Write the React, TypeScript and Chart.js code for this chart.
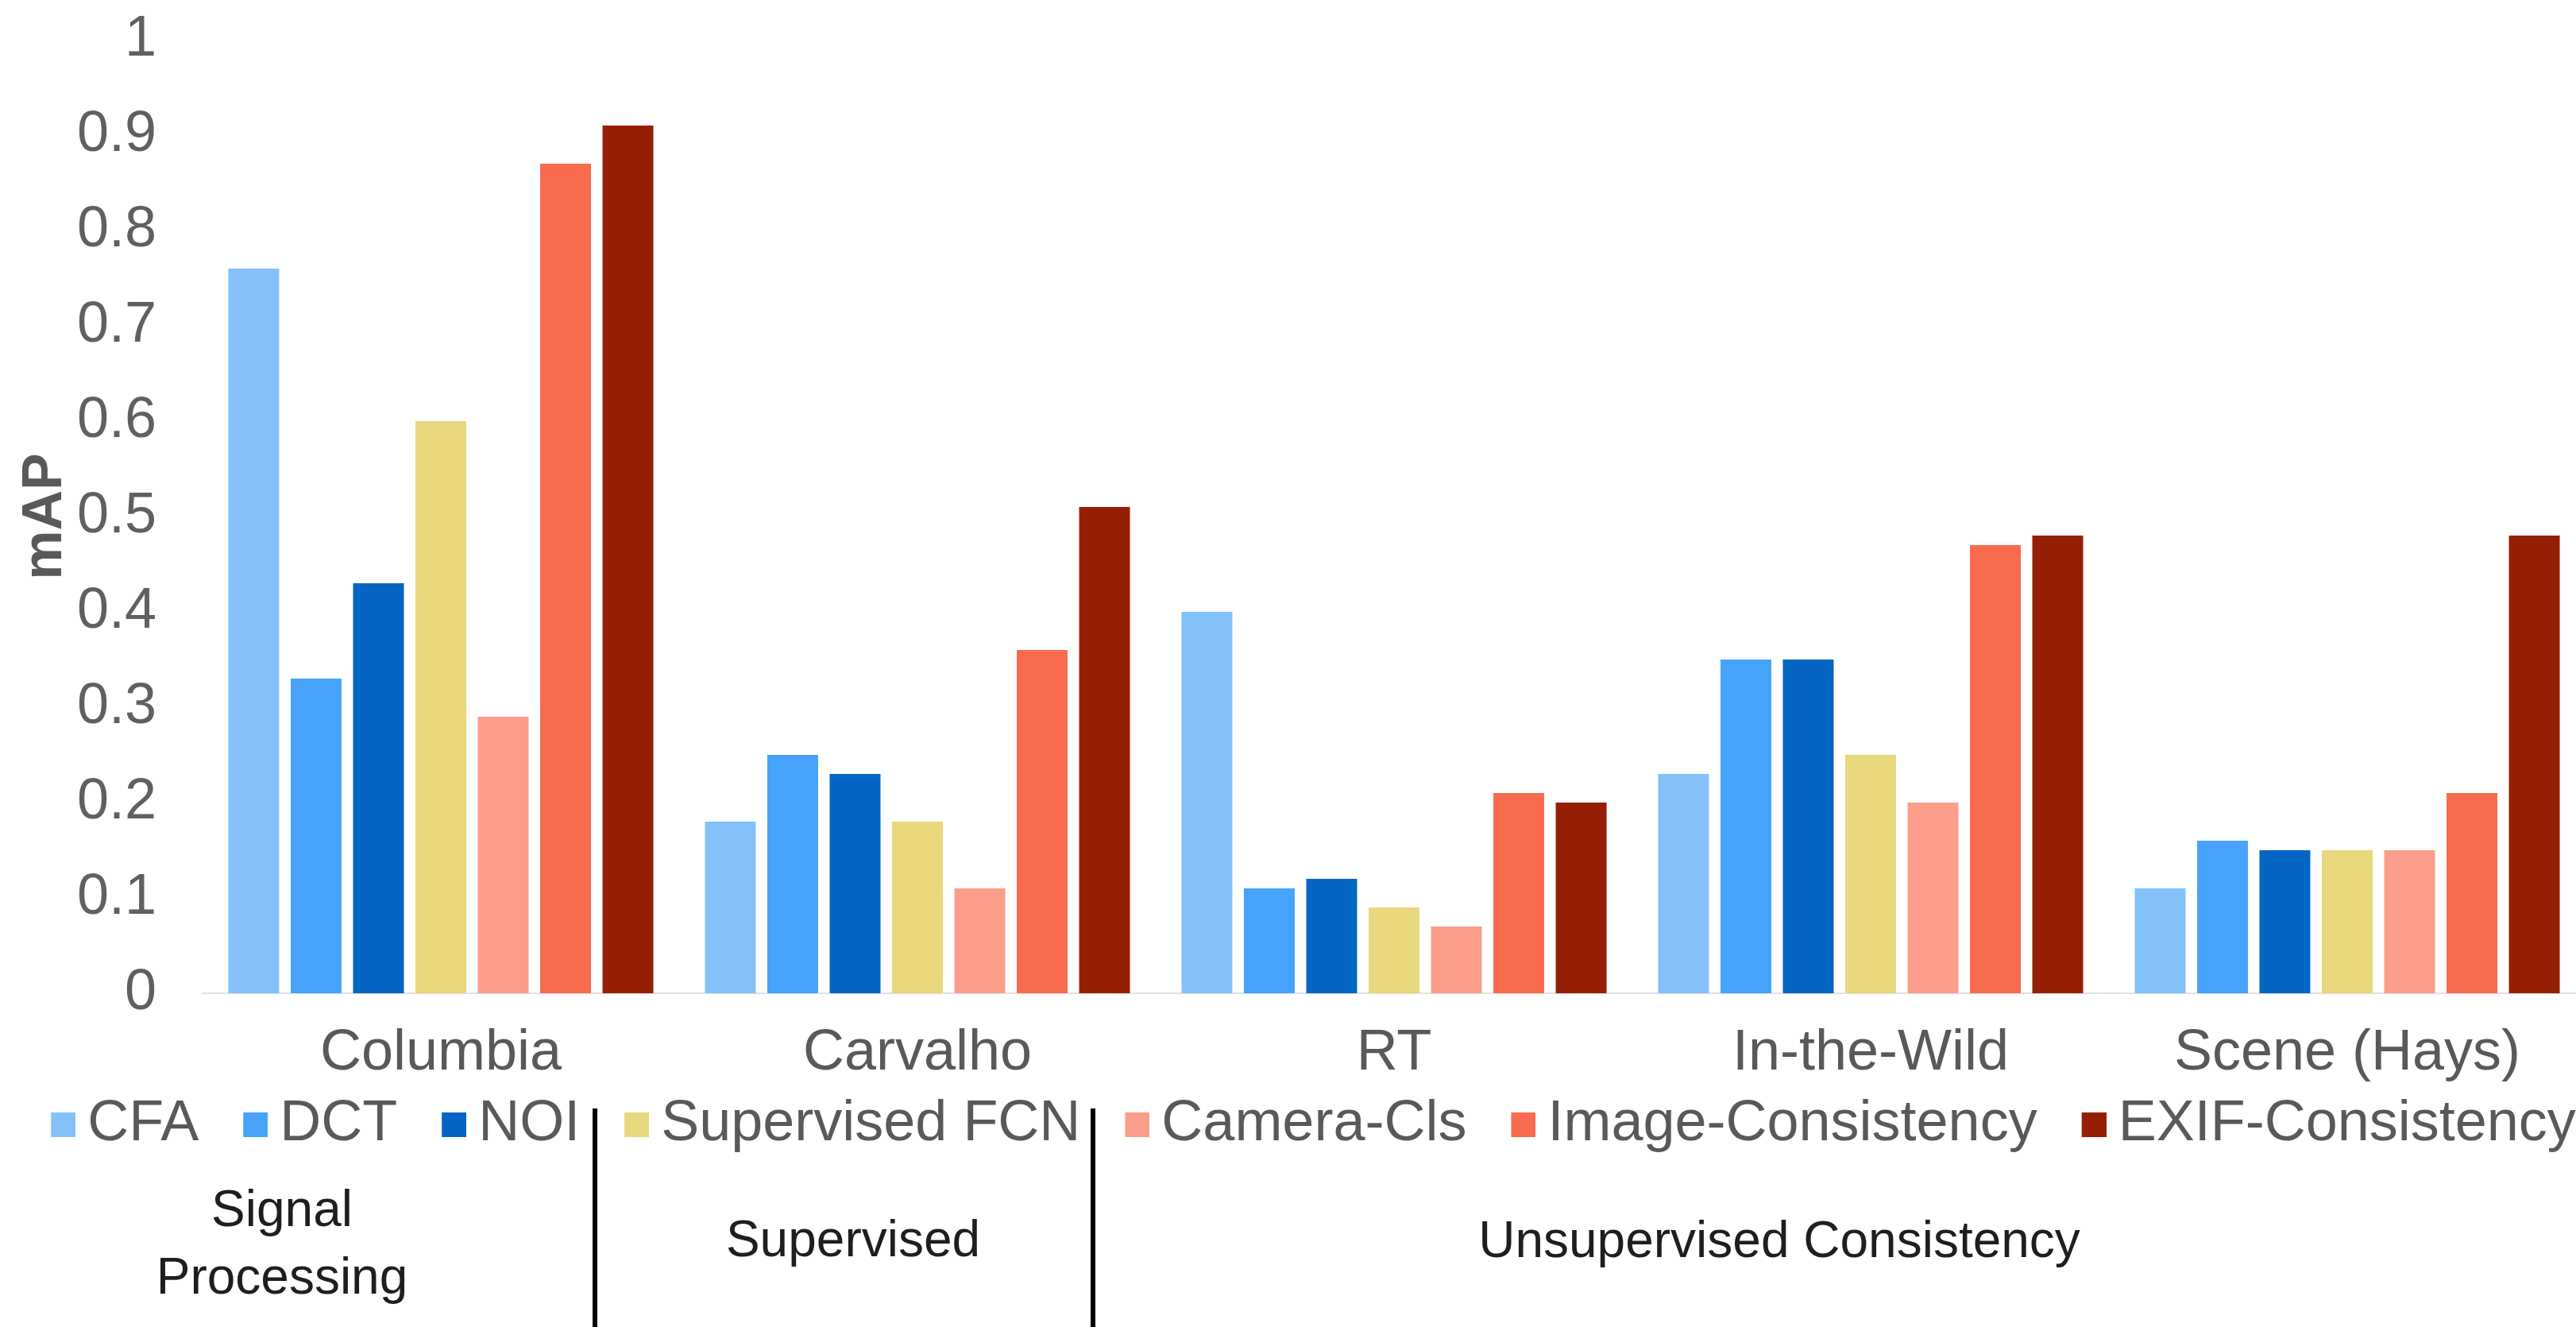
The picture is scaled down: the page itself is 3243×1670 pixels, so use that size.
import React, { useEffect, useRef } from "react";
import { Chart, registerables } from "chart.js";

Chart.register(...registerables);

const categories = ["Columbia", "Carvalho", "RT", "In-the-Wild", "Scene (Hays)"];
const methodNames = ["CFA", "DCT", "NOI", "Supervised FCN", "Camera-Cls", "Image-Consistency", "EXIF-Consistency"];
const cfa = [0.76, 0.18, 0.4, 0.23, 0.11];
const dct = [0.33, 0.25, 0.11, 0.35, 0.16];
const noi = [0.43, 0.23, 0.12, 0.35, 0.15];
const supervisedFcn = [0.6, 0.18, 0.09, 0.25, 0.15];
const cameraCls = [0.29, 0.11, 0.07, 0.2, 0.15];
const imageConsistency = [0.87, 0.36, 0.21, 0.47, 0.21];
const exifConsistency = [0.91, 0.51, 0.2, 0.48, 0.48];
const seriesValues = [cfa, dct, noi, supervisedFcn, cameraCls, imageConsistency, exifConsistency];
const seriesColors = ["#85C1F9", "#46A3F9", "#0565C2", "#E8D77D", "#FA9D8B", "#F96B4F", "#951F04"];
const yTicks = [0, 0.1, 0.2, 0.3, 0.4, 0.5, 0.6, 0.7, 0.8, 0.9, 1];
const yTitle = "mAP";
const groupNames = [["Signal", "Processing"], ["Supervised"], ["Unsupervised Consistency"]];

const FONT = "'Liberation Sans', Arial, Helvetica, sans-serif";

function makeSwatch(color: string): HTMLCanvasElement {
  const c = document.createElement("canvas");
  c.width = 104;
  c.height = 31;
  const ctx = c.getContext("2d")!;
  ctx.fillStyle = color;
  ctx.fillRect(73, 0, 31, 31);
  return c;
}

const groupPlugin = {
  id: "groupLabels",
  afterDraw(chart: any) {
    const ctx = chart.ctx as CanvasRenderingContext2D;
    ctx.save();
    ctx.strokeStyle = "#000000";
    ctx.lineWidth = 6;
    [749, 1376].forEach((x) => {
      ctx.beginPath();
      ctx.moveTo(x, 1395);
      ctx.lineTo(x, 1670);
      ctx.stroke();
    });
    ctx.fillStyle = "#1e1e1e";
    ctx.font = `64px ${FONT}`;
    ctx.textAlign = "center";
    ctx.textBaseline = "alphabetic";
    ctx.fillText(groupNames[0][0], 355, 1543);
    ctx.fillText(groupNames[0][1], 355, 1628);
    ctx.fillText(groupNames[1][0], 1074, 1581);
    ctx.fillText(groupNames[2][0], 2240, 1582);
    ctx.restore();
  },
};

export default function App() {
  const ref = useRef<HTMLCanvasElement | null>(null);

  useEffect(() => {
    if (!ref.current) return;
    const swatches = seriesColors.map(makeSwatch);
    const chart = new Chart(ref.current, {
      type: "bar",
      data: {
        labels: categories,
        datasets: methodNames.map((name, i) => ({
          label: name,
          data: seriesValues[i],
          backgroundColor: seriesColors[i],
          borderWidth: 0,
          categoryPercentage: 0.916,
          barPercentage: 0.815,
        })),
      },
      options: {
        responsive: false,
        animation: false,
        devicePixelRatio: 1,
        layout: { padding: { top: 50, right: 45, bottom: 209, left: 0 } },
        plugins: {
          tooltip: { enabled: false },
          legend: {
            position: "bottom",
            labels: {
              usePointStyle: true,
              pointStyleWidth: 62,
              boxHeight: 31,
              padding: 4,
              color: "#595959",
              font: { size: 72, family: FONT },
              generateLabels: (c: any) =>
                c.data.datasets.map((ds: any, i: number) => ({
                  text: ds.label,
                  fillStyle: ds.backgroundColor,
                  strokeStyle: ds.backgroundColor,
                  lineWidth: 0,
                  hidden: false,
                  datasetIndex: i,
                  pointStyle: swatches[i],
                  fontColor: "#595959",
                })),
            },
          },
        },
        scales: {
          x: {
            grid: { display: false, drawTicks: false },
            border: { display: true, color: "#E2E2E2", width: 2 },
            ticks: { color: "#595959", font: { size: 72, family: FONT }, padding: 33, maxRotation: 0 },
            afterFit: (s: any) => {
              s.height = 125;
            },
          },
          y: {
            min: 0,
            max: 1,
            grid: { display: false, drawTicks: false },
            border: { display: false },
            afterBuildTicks: (s: any) => {
              s.ticks = yTicks.map((v) => ({ value: v }));
            },
            ticks: {
              color: "#606060",
              font: { size: 72, family: FONT },
              padding: 58,
              callback: (v: any) => String(Math.round(Number(v) * 10) / 10),
            },
            title: {
              display: true,
              text: yTitle,
              color: "#595959",
              font: { size: 70, weight: "bold", family: FONT },
              padding: { top: 16, bottom: 0 },
            },
            afterFit: (s: any) => {
              s.width = 255;
              s.paddingTop = 0;
              s.paddingBottom = 0;
            },
          },
        },
      },
      plugins: [groupPlugin],
    });
    return () => chart.destroy();
  }, []);

  return (
    <div style={{ position: "absolute", left: 0, top: 0, width: 3243, height: 1670, overflow: "hidden", background: "#ffffff" }}>
      <canvas ref={ref} width={3300} height={1670} style={{ display: "block", width: 3300, height: 1670 }} />
    </div>
  );
}
